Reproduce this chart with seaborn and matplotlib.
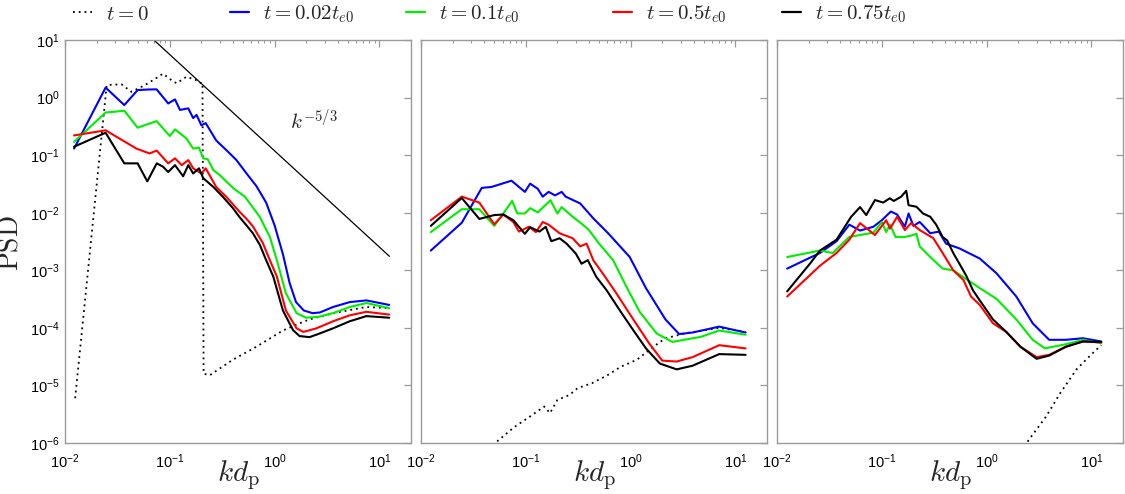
import numpy as np
import pandas as pd
import matplotlib
matplotlib.use("Agg")
import matplotlib.pyplot as plt
import seaborn as sns
from matplotlib.lines import Line2D
from matplotlib.ticker import LogLocator, NullLocator, LogFormatterSciNotation

# ---------------- data ----------------
# Panel 1
p1_t0_k = [0.0125, 0.025, 0.0346, 0.043, 0.058, 0.072, 0.086, 0.1, 0.116, 0.144, 0.18, 0.193, 0.205, 0.21, 0.24, 0.40, 0.67, 1.2, 1.73, 2.15, 3.6, 7.5, 12.4]
p1_t0_P = [6e-6, 1.65, 1.7, 1.26, 1.65, 2.1, 2.6, 2.1, 1.77, 2.3, 2.0, 1.8, 1.8, 1.6e-5, 1.5e-5, 2.8e-5, 4.7e-5, 9e-5, 1.2e-4, 1.4e-4, 1.8e-4, 2.3e-4, 2.2e-4]

p1_b_k = [0.0122, 0.0244, 0.0368, 0.0493, 0.062, 0.0748, 0.0965, 0.112, 0.125, 0.15, 0.167, 0.18, 0.20, 0.22, 0.277, 0.345, 0.43, 0.54, 0.67, 0.83, 1.0, 1.2, 1.39, 1.6, 1.9, 2.3, 2.7, 3.6, 5.2, 7.5, 12.4]
p1_b_P = [0.13, 1.49, 0.74, 1.35, 1.38, 1.39, 0.79, 0.93, 0.61, 0.65, 0.44, 0.5, 0.33, 0.36, 0.18, 0.123, 0.083, 0.048, 0.029, 0.015, 0.006, 0.0019, 6e-4, 2.8e-4, 2.0e-4, 1.8e-4, 1.85e-4, 2.3e-4, 2.8e-4, 3.0e-4, 2.5e-4]

p1_g_k = [0.0122, 0.0244, 0.0368, 0.0493, 0.0748, 0.1, 0.112, 0.144, 0.167, 0.19, 0.208, 0.23, 0.26, 0.30, 0.345, 0.41, 0.52, 0.72, 0.9, 1.05, 1.28, 1.62, 2.0, 2.6, 3.6, 5.2, 7.5, 12.4]
p1_g_P = [0.17, 0.55, 0.59, 0.30, 0.39, 0.215, 0.28, 0.195, 0.13, 0.135, 0.088, 0.085, 0.055, 0.045, 0.035, 0.026, 0.019, 0.0085, 0.0038, 0.0015, 4e-4, 1.8e-4, 1.5e-4, 1.55e-4, 1.8e-4, 2.3e-4, 2.7e-4, 2.2e-4]

p1_r_k = [0.0122, 0.0244, 0.048, 0.064, 0.075, 0.0965, 0.112, 0.13, 0.15, 0.167, 0.2, 0.22, 0.277, 0.345, 0.40, 0.46, 0.54, 0.62, 0.77, 0.9, 1.05, 1.28, 1.62, 1.88, 2.5, 3.6, 5.2, 7.5, 12.4]
p1_r_P = [0.22, 0.27, 0.13, 0.107, 0.12, 0.072, 0.088, 0.067, 0.082, 0.059, 0.048, 0.059, 0.028, 0.019, 0.014, 0.0105, 0.0078, 0.0058, 0.003, 0.0015, 7.8e-4, 2e-4, 9.8e-5, 8.5e-5, 9.8e-5, 1.3e-4, 1.65e-4, 1.9e-4, 1.7e-4]

p1_k_k = [0.0122, 0.0244, 0.0368, 0.0493, 0.061, 0.075, 0.086, 0.0965, 0.112, 0.134, 0.15, 0.167, 0.19, 0.208, 0.26, 0.32, 0.40, 0.46, 0.54, 0.62, 0.72, 0.83, 0.97, 1.2, 1.5, 1.73, 2.15, 2.6, 3.6, 5.2, 7.5, 12.4]
p1_k_P = [0.14, 0.245, 0.072, 0.072, 0.035, 0.072, 0.063, 0.051, 0.067, 0.043, 0.067, 0.048, 0.059, 0.04, 0.028, 0.019, 0.012, 0.0085, 0.006, 0.0044, 0.0028, 0.0015, 7.8e-4, 2e-4, 9.1e-5, 7.2e-5, 6.9e-5, 7.8e-5, 9.8e-5, 1.3e-4, 1.6e-4, 1.5e-4]

# reference slope line k^-5/3 (end points)
ref_k = [0.0705, 12.45]
ref_P = [10.0, 1.75e-3]

# Panel 2
p2_t0_k = [0.04, 0.051, 0.078, 0.11, 0.15, 0.17, 0.2, 0.26, 0.31, 0.43, 0.6, 0.8, 1.15, 1.65, 2.15, 3.4, 7.0, 12.5]
p2_t0_P = [5e-7, 1e-6, 1.9e-6, 2.9e-6, 4.3e-6, 3.3e-6, 5.6e-6, 6.8e-6, 8.9e-6, 1.1e-5, 1.5e-5, 2.1e-5, 2.8e-5, 4.7e-5, 6.6e-5, 8.1e-5, 1.0e-4, 8.5e-5]

p2_b_k = [0.0124, 0.0245, 0.038, 0.047, 0.073, 0.098, 0.11, 0.13, 0.145, 0.165, 0.19, 0.22, 0.24, 0.33, 0.44, 0.61, 0.98, 1.4, 2.15, 2.9, 3.9, 7.0, 12.5]
p2_b_P = [2.2e-3, 6.7e-3, 0.027, 0.028, 0.036, 0.023, 0.032, 0.026, 0.019, 0.023, 0.02, 0.023, 0.019, 0.0145, 0.008, 0.0044, 0.0017, 4.9e-4, 1.4e-4, 7.8e-5, 8.3e-5, 1.05e-4, 8.3e-5]

p2_g_k = [0.0124, 0.0245, 0.036, 0.05, 0.061, 0.074, 0.083, 0.098, 0.11, 0.13, 0.172, 0.2, 0.22, 0.28, 0.35, 0.40, 0.50, 0.68, 0.91, 1.22, 1.77, 2.5, 4.7, 7.0, 12.5]
p2_g_P = [4.6e-3, 0.0115, 0.0115, 5.9e-3, 9.7e-3, 0.016, 0.0097, 0.0097, 0.012, 0.0101, 0.0165, 0.0097, 0.0125, 0.0085, 0.0062, 0.005, 0.0029, 0.0015, 5.2e-4, 1.9e-4, 8e-5, 5.7e-5, 7e-5, 9e-5, 7.6e-5]

p2_r_k = [0.0124, 0.0245, 0.036, 0.05, 0.061, 0.076, 0.086, 0.107, 0.125, 0.145, 0.165, 0.21, 0.28, 0.33, 0.38, 0.44, 0.54, 0.73, 1.06, 1.5, 2.0, 2.75, 3.9, 7.0, 12.5]
p2_r_P = [7.4e-3, 0.019, 0.015, 6.3e-3, 9.3e-3, 6.9e-3, 4.7e-3, 5.7e-3, 4.6e-3, 6.9e-3, 6.2e-3, 4.4e-3, 3.6e-3, 2.6e-3, 2.9e-3, 1.5e-3, 8.9e-4, 4e-4, 1.4e-4, 5.4e-5, 2.7e-5, 2.6e-5, 3.1e-5, 5e-5, 4.4e-5]

p2_k_k = [0.0124, 0.0245, 0.036, 0.05, 0.061, 0.076, 0.098, 0.11, 0.135, 0.155, 0.175, 0.21, 0.245, 0.3, 0.34, 0.39, 0.47, 0.59, 0.79, 1.06, 1.4, 1.9, 2.75, 3.9, 7.0, 12.5]
p2_k_P = [5.9e-3, 0.018, 7.8e-3, 9.1e-3, 9.3e-3, 7.4e-3, 4.3e-3, 5.6e-3, 4.7e-3, 5.7e-3, 3.2e-3, 3.6e-3, 2.9e-3, 1.95e-3, 1.3e-3, 1.5e-3, 7.7e-4, 4.5e-4, 2.0e-4, 9.1e-5, 4.4e-5, 2.4e-5, 1.9e-5, 2.2e-5, 3.5e-5, 3.4e-5]

# Panel 3
p3_t0_k = [2.2, 2.4, 3.7, 5.0, 7.2, 10.2, 12.4]
p3_t0_P = [7e-7, 1e-6, 2.9e-6, 7.2e-6, 1.9e-5, 3.6e-5, 5e-5]

p3_b_k = [0.0125, 0.0257, 0.037, 0.049, 0.062, 0.083, 0.1, 0.122, 0.14, 0.166, 0.18, 0.2, 0.23, 0.29, 0.35, 0.41, 0.55, 0.86, 1.24, 1.92, 2.75, 3.95, 5.7, 8.3, 12.4]
p3_b_P = [1.07e-3, 2.0e-3, 3.2e-3, 6.2e-3, 4.9e-3, 5.7e-3, 7.4e-3, 0.0105, 9.3e-3, 5.7e-3, 9.7e-3, 5.9e-3, 6.9e-3, 4.4e-3, 4.7e-3, 2.9e-3, 2.4e-3, 1.6e-3, 8.9e-4, 3.5e-4, 1.2e-4, 6.2e-5, 6.2e-5, 6.6e-5, 5.8e-5]

p3_g_k = [0.0125, 0.0257, 0.034, 0.049, 0.083, 0.1, 0.11, 0.12, 0.135, 0.166, 0.19, 0.214, 0.23, 0.29, 0.38, 0.48, 0.6, 0.86, 1.24, 1.92, 2.75, 3.6, 5.7, 8.3, 12.4]
p3_g_P = [1.7e-3, 2.2e-3, 2.0e-3, 3.8e-3, 4.5e-3, 6.9e-3, 4.6e-3, 6.2e-3, 3.8e-3, 3.8e-3, 4.0e-3, 4.3e-3, 2.6e-3, 1.7e-3, 1.07e-3, 1.0e-3, 7.6e-4, 4.9e-4, 3.2e-4, 1.4e-4, 6.2e-5, 4.4e-5, 5.2e-5, 6.2e-5, 5.4e-5]

p3_r_k = [0.0125, 0.0257, 0.037, 0.049, 0.062, 0.086, 0.11, 0.12, 0.14, 0.166, 0.19, 0.23, 0.31, 0.38, 0.48, 0.6, 0.71, 0.86, 1.15, 1.54, 2.1, 3.0, 3.95, 5.7, 8.3, 12.4]
p3_r_P = [3.5e-4, 1.2e-3, 2.0e-3, 3.4e-3, 6.6e-3, 4.1e-3, 7.4e-3, 5.3e-3, 8.5e-3, 5e-3, 6.6e-3, 5e-3, 3.6e-3, 2e-3, 1e-3, 6.8e-4, 3.5e-4, 2.5e-4, 1.2e-4, 8.5e-5, 4.7e-5, 3.1e-5, 3.4e-5, 4.7e-5, 5.8e-5, 5.6e-5]

p3_k_k = [0.0125, 0.0206, 0.0257, 0.037, 0.051, 0.062, 0.071, 0.086, 0.103, 0.119, 0.13, 0.153, 0.171, 0.18, 0.214, 0.247, 0.29, 0.33, 0.38, 0.42, 0.48, 0.55, 0.64, 0.74, 0.86, 1.15, 1.54, 2.1, 3.0, 3.95, 5.7, 8.3, 12.4]
p3_k_P = [4.3e-4, 1.3e-3, 2.2e-3, 3.4e-3, 8.5e-3, 0.0125, 9.1e-3, 0.0166, 0.015, 0.0178, 0.016, 0.019, 0.024, 0.0135, 0.0127, 9.7e-3, 8.5e-3, 6.2e-3, 3.8e-3, 3.3e-3, 2.0e-3, 1.3e-3, 8e-4, 4.5e-4, 3e-4, 1.4e-4, 8.5e-5, 4.7e-5, 2.9e-5, 3.3e-5, 4.7e-5, 5.8e-5, 5.7e-5]

labels = [r"$t=0$", r"$t=0.02t_{e0}$", r"$t=0.1t_{e0}$", r"$t=0.5t_{e0}$", r"$t=0.75t_{e0}$"]
colors = ["black", "#0000ff", "#00ee00", "#ff0000", "black"]

panels = [
    [(p1_t0_k, p1_t0_P), (p1_b_k, p1_b_P), (p1_g_k, p1_g_P), (p1_r_k, p1_r_P), (p1_k_k, p1_k_P)],
    [(p2_t0_k, p2_t0_P), (p2_b_k, p2_b_P), (p2_g_k, p2_g_P), (p2_r_k, p2_r_P), (p2_k_k, p2_k_P)],
    [(p3_t0_k, p3_t0_P), (p3_b_k, p3_b_P), (p3_g_k, p3_g_P), (p3_r_k, p3_r_P), (p3_k_k, p3_k_P)],
]

# ---------------- style ----------------
sns.set_style("white")
plt.rcParams["font.family"] = ["Liberation Sans", "DejaVu Sans"]
plt.rcParams["mathtext.fontset"] = "custom"
plt.rcParams["mathtext.rm"] = "Liberation Sans"
plt.rcParams["mathtext.it"] = "Liberation Sans:italic"
plt.rcParams["mathtext.bf"] = "Liberation Sans:bold"

fig = plt.figure(figsize=(11.25, 4.94), dpi=100)
W, H = 1125.0, 494.0
lefts = [65, 421, 777]
axw = 346
top_px, bot_px = 40, 443
axes = [fig.add_axes([l / W, 1 - bot_px / H, axw / W, (bot_px - top_px) / H]) for l in lefts]

spine_col = "#9a9a9a"
dot_style = (0, (1, 2.2))
for i, ax in enumerate(axes):
    ax.set_xscale("log")
    ax.set_yscale("log")
    for j, (kk, pp) in enumerate(panels[i]):
        df = pd.DataFrame({"k": kk, "P": pp})
        if j == 0:
            sns.lineplot(data=df, x="k", y="P", ax=ax, color="black", lw=1.3,
                         linestyle=dot_style, estimator=None, sort=False, zorder=1)
        else:
            sns.lineplot(data=df, x="k", y="P", ax=ax, color=colors[j], lw=1.5,
                         estimator=None, sort=False, zorder=2 + j)
    if i == 0:
        ref_df = pd.DataFrame({"k": ref_k, "P": ref_P})
        sns.lineplot(data=ref_df, x="k", y="P", ax=ax, color="black", lw=0.9,
                     estimator=None, sort=False, zorder=1)
        ax.text(2.35, 0.4, r"$k^{-5/3}$", fontsize=15, math_fontfamily="cm",
                ha="center", va="center")
    ax.set_xlim(0.01, 20)
    ax.set_ylim(1e-6, 10)
    ax.set_xlabel(r"$kd_\mathrm{p}$", fontsize=21, math_fontfamily="cm")
    ax.xaxis.set_label_coords(0.5, -0.038)
    ax.set_ylabel("")
    for s in ax.spines.values():
        s.set_color(spine_col)
        s.set_linewidth(1.0)
    ax.xaxis.set_major_locator(LogLocator(base=10, numticks=10))
    ax.xaxis.set_minor_locator(LogLocator(base=10, subs=np.arange(2, 10), numticks=20))
    ax.yaxis.set_major_locator(LogLocator(base=10, numticks=20))
    ax.yaxis.set_minor_locator(NullLocator())
    ax.xaxis.set_major_formatter(LogFormatterSciNotation())
    ax.tick_params(which="both", direction="in", top=True, right=True, color=spine_col,
                   labelsize=10.5, labelcolor="black")
    ax.tick_params(which="major", length=5, width=0.9, pad=7)
    ax.tick_params(which="minor", length=2.5, width=0.7)
    ax.tick_params(axis="y", which="major", pad=4)
    if i > 0:
        ax.set_yticklabels([])
    ax.set_facecolor("white")

fig.text(11 / W, 1 - 243 / H, r"$\mathrm{PSD}$", rotation=90, fontsize=20,
         math_fontfamily="cm", ha="center", va="center")

# legend: one entry per block, positioned like the reference
leg_x = [73, 230, 406, 613, 782]
for j in range(5):
    if j == 0:
        h = Line2D([], [], color="black", lw=1.3, linestyle=dot_style)
    else:
        h = Line2D([], [], color=colors[j], lw=1.6)
    leg = fig.legend([h], [labels[j]], loc="center left",
                     bbox_to_anchor=(leg_x[j] / W, 1 - 14 / H), frameon=False,
                     fontsize=15, handlelength=0.9, handletextpad=0.7,
                     borderpad=0, borderaxespad=0)
    for t in leg.get_texts():
        t.set_math_fontfamily("cm")

fig.savefig("out.png", dpi=100, facecolor="white")
